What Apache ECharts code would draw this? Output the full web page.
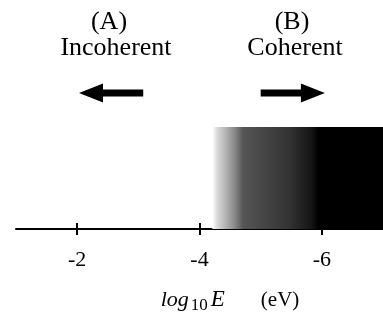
<!DOCTYPE html>
<html>
<head>
<meta charset="utf-8">
<script src="https://cdn.jsdelivr.net/npm/echarts@6/dist/echarts.min.js"></script>
<style>html,body{margin:0;padding:0;background:#fff}#c{width:383px;height:320px}</style>
</head>
<body>
<div id="c"></div>
<script>
// ---- data ----
const xRange = [-7, -1];               // log10 E (eV), reversed axis
const xTickValues = [-2, -4, -6];
const yRange = [0, 10];
const coherentBand = [-4.21, -7];      // gradient region (x from, x to)
const bandHeight = 4.45;
const arrowFrom = [-3.08, -5.0];
const arrowTo = [-2.03, -6.05];
const arrowY = [5.94, 5.94];
const regionTags = ['(A)', '(B)'];
const regionNames = ['Incoherent', 'Coherent'];

const serif = '"Liberation Serif", "DejaVu Serif", serif';
const chart = echarts.init(document.getElementById('c'), null, {renderer: 'canvas'});

const arrowData = arrowFrom.map((f, i) => [f, arrowTo[i], arrowY[i]]);

chart.setOption({
  animation: false,
  grid: {left: 16, right: 0, top: 0, bottom: 91, containLabel: false, outerBoundsMode: 'none'},
  xAxis: [{
    type: 'value', min: xRange[0], max: xRange[1], inverse: true,
    splitLine: {show: false},
    axisLine: {show: true, onZero: false, lineStyle: {color: '#000', width: 2}},
    axisTick: {show: true, inside: false, length: 6, customValues: xTickValues, lineStyle: {color: '#000', width: 2}},
    axisLabel: {show: true, customValues: xTickValues, margin: 20, color: '#000', fontFamily: serif, fontSize: 22},
    name: '{i|log}{s|10}{e|E}{n|(eV)}',
    nameLocation: 'middle', nameGap: 58,
    nameTextStyle: {
      padding: [0, 0, 0, 61],
      rich: {
        i: {fontFamily: serif, fontStyle: 'italic', fontSize: 22, color: '#000', lineHeight: 26, verticalAlign: 'middle'},
        e: {fontFamily: serif, fontStyle: 'italic', fontSize: 23, color: '#000', lineHeight: 26, verticalAlign: 'middle', padding: [0, 36, 0, 0]},
        s: {fontFamily: serif, fontSize: 17, color: '#000', lineHeight: 16, padding: [12, 3, 0, 2], verticalAlign: 'middle'},
        n: {fontFamily: serif, fontSize: 21, color: '#000', lineHeight: 26, verticalAlign: 'middle'}
      }
    }
  }, {
    type: 'value', min: xRange[0], max: xRange[1], inverse: true, position: 'bottom',
    splitLine: {show: false},
    axisLine: {show: false},
    axisTick: {show: true, inside: true, length: 6, customValues: xTickValues, lineStyle: {color: '#000', width: 2}},
    axisLabel: {show: false}
  }],
  yAxis: {type: 'value', min: yRange[0], max: yRange[1], show: false},
  series: [{
    type: 'line', data: [], xAxisIndex: 0,
    markArea: {
      silent: true,
      itemStyle: {
        color: new echarts.graphic.LinearGradient(0, 0, 1, 0, [
          {offset: 0, color: '#ffffff'},
          {offset: 0.03, color: '#d8d8d8'},
          {offset: 0.13, color: '#8a8a8a'},
          {offset: 0.18, color: '#555555'},
          {offset: 0.45, color: '#333333'},
          {offset: 0.58, color: '#151515'},
          {offset: 0.62, color: '#000000'},
          {offset: 1, color: '#000000'}
        ])
      },
      data: [[{xAxis: coherentBand[0], yAxis: 0}, {xAxis: coherentBand[1], yAxis: bandHeight}]]
    }
  }, {
    type: 'custom', xAxisIndex: 0,
    data: arrowData,
    renderItem: function (params, api) {
      const p0 = api.coord([api.value(0), api.value(2)]);
      const p1 = api.coord([api.value(1), api.value(2)]);
      const dir = p1[0] > p0[0] ? 1 : -1;
      const headL = 24, headH = 9.5, shaft = 3.5;
      const hb = p1[0] - dir * headL;
      const y = p0[1];
      return {
        type: 'polygon',
        shape: {points: [
          [p0[0], y - shaft], [hb, y - shaft], [hb, y - headH], [p1[0], y],
          [hb, y + headH], [hb, y + shaft], [p0[0], y + shaft]
        ]},
        style: {fill: '#000'}
      };
    }
  }],
  graphic: [
    {type: 'text', x: 109, y: 22, style: {text: regionTags[0], font: '26px ' + serif, fill: '#000', align: 'center', verticalAlign: 'middle'}},
    {type: 'text', x: 116, y: 48, style: {text: regionNames[0], font: '26px ' + serif, fill: '#000', align: 'center', verticalAlign: 'middle'}},
    {type: 'text', x: 292, y: 22, style: {text: regionTags[1], font: '26px ' + serif, fill: '#000', align: 'center', verticalAlign: 'middle'}},
    {type: 'text', x: 295, y: 48, style: {text: regionNames[1], font: '26px ' + serif, fill: '#000', align: 'center', verticalAlign: 'middle'}}
  ]
});
</script>
</body>
</html>
